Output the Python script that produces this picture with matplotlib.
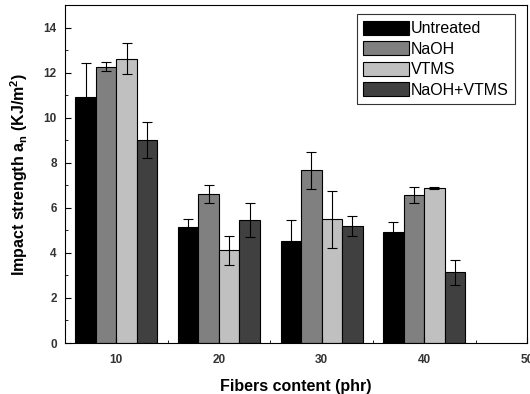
import numpy as np
import matplotlib.pyplot as plt
from matplotlib.ticker import MultipleLocator

plt.rcParams['font.family'] = ['Liberation Sans', 'DejaVu Sans']

content = [10, 20, 30, 40]
treatments = ["Untreated", "NaOH", "VTMS", "NaOH+VTMS"]
untreated = [10.9, 5.14, 4.52, 4.92]
untreated_err = [1.55, 0.35, 0.93, 0.45]
naoh = [12.27, 6.6, 7.67, 6.56]
naoh_err = [0.2, 0.4, 0.83, 0.35]
vtms = [12.63, 4.12, 5.49, 6.87]
vtms_err = [0.7, 0.65, 1.28, 0.05]
naoh_vtms = [9.0, 5.45, 5.18, 3.14]
naoh_vtms_err = [0.8, 0.75, 0.45, 0.55]

values = [untreated, naoh, vtms, naoh_vtms]
errors = [untreated_err, naoh_err, vtms_err, naoh_vtms_err]
colors = ["#000000", "#808080", "#c0c0c0", "#404040"]

fig = plt.figure(figsize=(5.3, 3.94), dpi=100)
ax = fig.add_axes([0.1226, 0.1294, 0.8714, 0.8576])

width = 2.0
offsets = [-3, -1, 1, 3]
x = np.array(content, dtype=float)
for vals, errs, col, off, name in zip(values, errors, colors, offsets, treatments):
    ax.bar(x + off, vals, width, yerr=errs, color=col, edgecolor="black",
           linewidth=0.8, label=name, capsize=3.5,
           error_kw=dict(elinewidth=0.8, capthick=0.8, ecolor="black"))

ax.set_xlim(5, 50)
ax.set_ylim(0, 15)
ax.set_xticks([10, 20, 30, 40, 50])
ax.xaxis.set_minor_locator(MultipleLocator(5))
ax.set_yticks(range(0, 15, 2))
ax.yaxis.set_minor_locator(MultipleLocator(1))
ax.tick_params(direction="in", which="both", labelsize=8.5, colors="black",
               labelcolor="#333333")
ax.tick_params(axis="y", which="major", length=4, pad=6)
ax.tick_params(axis="x", which="major", length=4, pad=8)
ax.tick_params(which="minor", length=2)
for lab in ax.get_xticklabels() + ax.get_yticklabels():
    lab.set_fontweight("bold")

ax.set_xlabel("Fibers content (phr)", fontsize=11.5, fontweight="bold", labelpad=9)
ax.set_ylabel("Impact strength a$_\\mathregular{n}$ (KJ/m$^\\mathregular{2}$)",
              fontsize=11.5, fontweight="bold", labelpad=10)

leg = ax.legend(loc="upper right", bbox_to_anchor=(0.985, 0.987), fontsize=11.5,
                frameon=True, fancybox=False, edgecolor="black",
                handlelength=2.9, handleheight=1.0, labelspacing=0.3,
                handletextpad=0.1, borderpad=0.4, borderaxespad=0.3)
leg.get_frame().set_linewidth(0.8)

fig.savefig("out.png", dpi=100)
